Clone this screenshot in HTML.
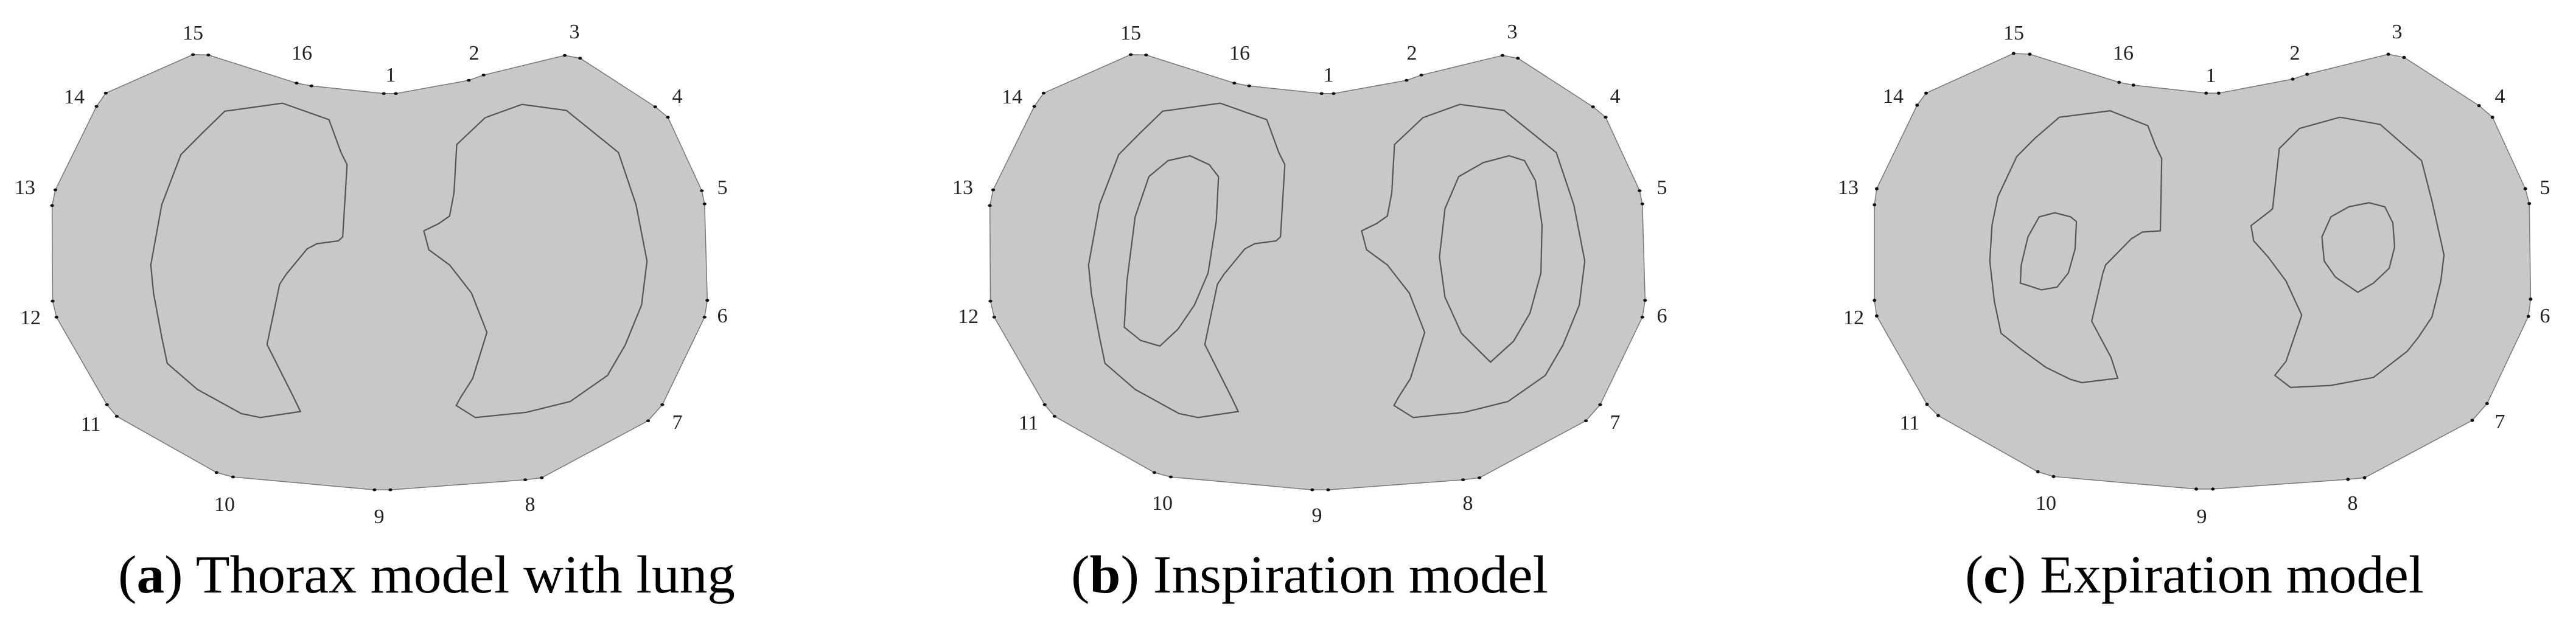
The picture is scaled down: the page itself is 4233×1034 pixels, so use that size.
<!DOCTYPE html>
<html><head><meta charset="utf-8"><style>
html,body{margin:0;padding:0;background:#fff}
svg{display:block}
text{font-family:"Liberation Serif",serif}
.l{font-size:34px;text-anchor:middle;fill:#222}
.c{font-size:88px;fill:#000}
</style></head><body>
<svg width="4233" height="1034" viewBox="0 0 4233 1034" xmlns="http://www.w3.org/2000/svg">
<defs>
<g id="thA">
<polygon points="700,233 722,233 855,200 882,187 1030,138 1058,145 1195,266 1218,292 1280,475 1285,508 1290,748 1285,790 1208,1008 1182,1048 988,1190 958,1195 712,1220 683,1220 425,1188 395,1177 213,1037 195,1008 103,790 96,750 95,512 101,473 176,265 193,232 352,136 380,137 541,207 568,214" fill="#c8c8c8" stroke="#777" stroke-width="1.5" vector-effect="non-scaling-stroke"/>
<g fill="#111">
<circle cx="700" cy="233" r="3.5"/><circle cx="722" cy="233" r="3.5"/><circle cx="855" cy="200" r="3.5"/><circle cx="882" cy="187" r="3.5"/><circle cx="1030" cy="138" r="3.5"/><circle cx="1058" cy="145" r="3.5"/><circle cx="1195" cy="266" r="3.5"/><circle cx="1218" cy="292" r="3.5"/><circle cx="1280" cy="475" r="3.5"/><circle cx="1285" cy="508" r="3.5"/><circle cx="1290" cy="748" r="3.5"/><circle cx="1285" cy="790" r="3.5"/><circle cx="1208" cy="1008" r="3.5"/><circle cx="1182" cy="1048" r="3.5"/><circle cx="988" cy="1190" r="3.5"/><circle cx="958" cy="1195" r="3.5"/><circle cx="712" cy="1220" r="3.5"/><circle cx="683" cy="1220" r="3.5"/><circle cx="425" cy="1188" r="3.5"/><circle cx="395" cy="1177" r="3.5"/><circle cx="213" cy="1037" r="3.5"/><circle cx="195" cy="1008" r="3.5"/><circle cx="103" cy="790" r="3.5"/><circle cx="96" cy="750" r="3.5"/><circle cx="95" cy="512" r="3.5"/><circle cx="101" cy="473" r="3.5"/><circle cx="176" cy="265" r="3.5"/><circle cx="193" cy="232" r="3.5"/><circle cx="352" cy="136" r="3.5"/><circle cx="380" cy="137" r="3.5"/><circle cx="541" cy="207" r="3.5"/><circle cx="568" cy="214" r="3.5"/>
</g>
<g fill="none" stroke="#555" stroke-width="2.2" vector-effect="non-scaling-stroke">
<polygon vector-effect="non-scaling-stroke" points="410,277 515,257 600,298 622,380 633,410 625,590 617,600 578,607 560,620 522,683 510,708 487,858 535,988 548,1025 475,1040 440,1030 360,970 305,905 295,840 280,730 275,660 295,510 330,385 370,330"/>
<polygon vector-effect="non-scaling-stroke" points="885,293 952,260 1033,275 1128,380 1160,510 1180,650 1170,760 1140,860 1108,935 1040,1000 960,1027 867,1040 832,1010 840,990 862,943 888,828 860,730 820,660 782,622 773,575 800,557 820,538 828,480 833,360"/>
</g>
</g>
</defs>

<!-- Panel a -->
<g transform="scale(0.901,0.66)"><use href="#thA"/></g>
<!-- Panel b -->
<g transform="translate(1541,0) scale(0.901,0.66)"><use href="#thA"/>
<g fill="none" stroke="#555" stroke-width="2.2">
<path vector-effect="non-scaling-stroke" d="M340,815 L345,700 L360,540 L385,440 L420,400 L460,388 L495,410 L512,440 L508,550 L493,680 L468,760 L438,820 L405,862 L370,848 Z"/>
<path vector-effect="non-scaling-stroke" d="M1008,902 L955,830 L925,740 L915,640 L925,520 L950,440 L995,405 L1042,388 L1070,400 L1090,450 L1102,560 L1100,680 L1080,780 L1050,850 Z"/>
</g></g>
<!-- Panel c -->
<g transform="translate(3078,0) scale(0.7375,0.66)">
<polygon points="742,232 770,232 935,197 967,185 1148,135 1183,143 1350,263 1380,292 1453,470 1462,507 1465,745 1460,788 1368,1005 1335,1047 1095,1190 1058,1194 757,1218 720,1218 402,1187 367,1175 145,1035 120,1007 8,787 3,748 3,510 8,470 98,262 118,232 313,133 349,135 548,205 580,212" fill="#c8c8c8" stroke="#777" stroke-width="1.5" vector-effect="non-scaling-stroke"/>
<g fill="#111">
<circle cx="742" cy="232" r="4"/><circle cx="770" cy="232" r="4"/><circle cx="935" cy="197" r="4"/><circle cx="967" cy="185" r="4"/><circle cx="1148" cy="135" r="4"/><circle cx="1183" cy="143" r="4"/><circle cx="1350" cy="263" r="4"/><circle cx="1380" cy="292" r="4"/><circle cx="1453" cy="470" r="4"/><circle cx="1462" cy="507" r="4"/><circle cx="1465" cy="745" r="4"/><circle cx="1460" cy="788" r="4"/><circle cx="1368" cy="1005" r="4"/><circle cx="1335" cy="1047" r="4"/><circle cx="1095" cy="1190" r="4"/><circle cx="1058" cy="1194" r="4"/><circle cx="757" cy="1218" r="4"/><circle cx="720" cy="1218" r="4"/><circle cx="402" cy="1187" r="4"/><circle cx="367" cy="1175" r="4"/><circle cx="145" cy="1035" r="4"/><circle cx="120" cy="1007" r="4"/><circle cx="8" cy="787" r="4"/><circle cx="3" cy="748" r="4"/><circle cx="3" cy="510" r="4"/><circle cx="8" cy="470" r="4"/><circle cx="98" cy="262" r="4"/><circle cx="118" cy="232" r="4"/><circle cx="313" cy="133" r="4"/><circle cx="349" cy="135" r="4"/><circle cx="548" cy="205" r="4"/><circle cx="580" cy="212" r="4"/>
</g>
<g fill="none" stroke="#555" stroke-width="2.2">
<polygon vector-effect="non-scaling-stroke" points="415,292 528,276 612,313 630,365 643,395 640,575 600,578 575,595 518,660 512,680 487,800 530,890 545,942 465,953 440,945 385,915 330,870 285,830 270,750 260,650 265,560 278,490 320,390 360,345"/>
<polygon vector-effect="non-scaling-stroke" points="328,705 330,660 345,590 370,540 405,530 440,540 453,552 450,620 435,680 410,715 375,722"/>
<polygon vector-effect="non-scaling-stroke" points="905,370 950,320 1040,292 1130,310 1222,400 1245,500 1272,635 1265,700 1245,790 1215,840 1190,875 1115,940 1020,960 930,965 895,935 920,900 955,785 920,700 880,640 848,600 842,562 885,525 890,520 900,420"/>
<polygon vector-effect="non-scaling-stroke" points="1080,728 1030,690 1005,650 1000,590 1020,540 1060,515 1105,505 1140,515 1158,555 1162,615 1150,668 1115,705"/>
</g></g>

<!-- Labels a -->
<g class="l">
<text class="l" x="317" y="65">15</text><text class="l" x="496" y="98">16</text><text class="l" x="642" y="134">1</text><text class="l" x="779" y="98">2</text><text class="l" x="944" y="63">3</text><text class="l" x="1113" y="169">4</text><text class="l" x="1187" y="319">5</text><text class="l" x="1187" y="530">6</text><text class="l" x="1113" y="705">7</text><text class="l" x="871" y="840">8</text><text class="l" x="623" y="860">9</text><text class="l" x="369" y="840">10</text><text class="l" x="149" y="708">11</text><text class="l" x="50" y="533">12</text><text class="l" x="41" y="319">13</text><text class="l" x="122" y="170">14</text>
</g>
<g transform="translate(1541,0)">
<text class="l" x="317" y="65">15</text><text class="l" x="496" y="98">16</text><text class="l" x="642" y="134">1</text><text class="l" x="779" y="98">2</text><text class="l" x="944" y="63">3</text><text class="l" x="1113" y="169">4</text><text class="l" x="1190" y="319">5</text><text class="l" x="1190" y="530">6</text><text class="l" x="1113" y="705">7</text><text class="l" x="871" y="838">8</text><text class="l" x="623" y="858">9</text><text class="l" x="369" y="838">10</text><text class="l" x="149" y="706">11</text><text class="l" x="50" y="531">12</text><text class="l" x="41" y="319">13</text><text class="l" x="122" y="170">14</text>
</g>
<g>
<text class="l" x="3309" y="65">15</text><text class="l" x="3489" y="98">16</text><text class="l" x="3633" y="135">1</text><text class="l" x="3771" y="98">2</text><text class="l" x="3939" y="63">3</text><text class="l" x="4108" y="169">4</text><text class="l" x="4182" y="319">5</text><text class="l" x="4182" y="530">6</text><text class="l" x="4108" y="704">7</text><text class="l" x="3866" y="838">8</text><text class="l" x="3618" y="860">9</text><text class="l" x="3362" y="838">10</text><text class="l" x="3138" y="706">11</text><text class="l" x="3046" y="533">12</text><text class="l" x="3037" y="319">13</text><text class="l" x="3111" y="169">14</text>
</g>

<!-- Captions -->
<text class="c" x="194" y="974" textLength="1014" lengthAdjust="spacingAndGlyphs">(<tspan font-weight="bold">a</tspan>) Thorax model with lung</text>
<text class="c" x="1760" y="974" textLength="784" lengthAdjust="spacingAndGlyphs">(<tspan font-weight="bold">b</tspan>) Inspiration model</text>
<text class="c" x="3229" y="974" textLength="754" lengthAdjust="spacingAndGlyphs">(<tspan font-weight="bold">c</tspan>) Expiration model</text>
</svg>
</body></html>
